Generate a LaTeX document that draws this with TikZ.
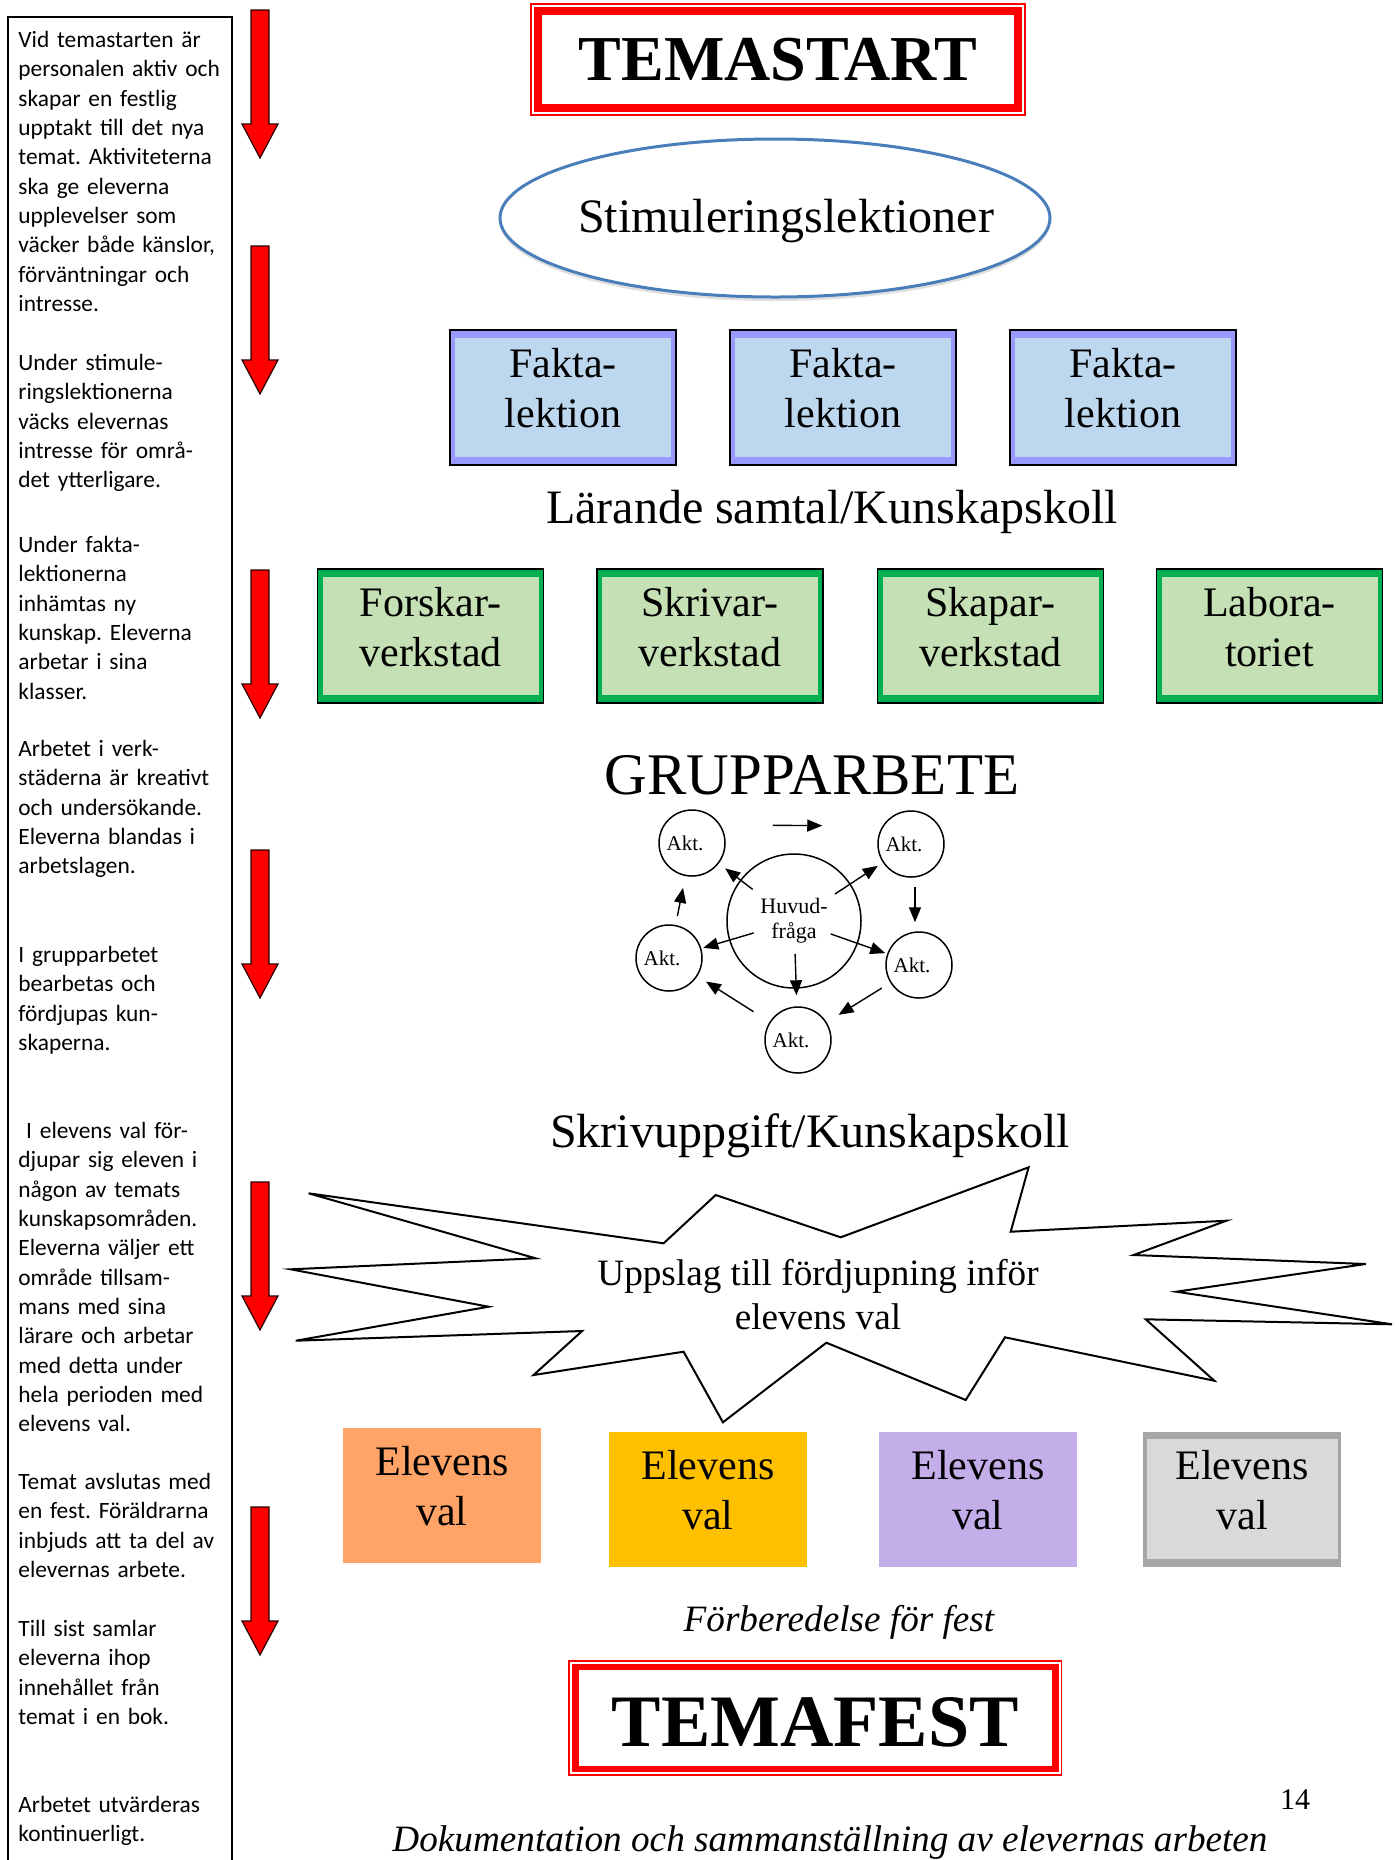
\documentclass[tikz,border=0pt]{standalone}
\usepackage{fontspec}
\setmainfont{Liberation Serif}
\newfontfamily\sidefont{Carlito}
\usetikzlibrary{arrows.meta,shapes.geometric,shadows}
\definecolor{temared}{HTML}{FF0000}
\definecolor{stimblue}{HTML}{4A7EBB}
\definecolor{faktaband}{HTML}{9999FF}
\definecolor{faktafill}{HTML}{BDD7EE}
\definecolor{verkband}{HTML}{00B050}
\definecolor{verkfill}{HTML}{C5E0B4}
\definecolor{valorange}{HTML}{FFA366}
\definecolor{valgold}{HTML}{FFC000}
\definecolor{vallilac}{HTML}{C3AEEA}
\definecolor{valgrey}{HTML}{D9D9D9}
\definecolor{valgreyband}{HTML}{A6A6A6}
\frenchspacing
\tikzset{
    every node/.style={inner sep=0pt},
    sidetext/.style={anchor=north west,text width=106pt,align=left,font=\sidefont\fontsize{11.7}{14.65}\selectfont},
    redarrow/.style={fill=red,draw=black!85!red,line width=0.6pt},
    titlebox/.style={draw=temared,minimum width=240pt},
    titlerim/.style={draw=temared,line width=0.9pt},
    stimel/.style={ellipse,draw=stimblue,line width=1.5pt,fill=white,minimum width=275pt,minimum height=79pt,
        drop shadow={opacity=0.25,shadow xshift=0pt,shadow yshift=-2pt}},
    boxtext/.style={align=center,font=\fontsize{21}{25}\selectfont,yshift=4.5pt},
    bandbox/.style 2 args={draw=black,line width=0.8pt,fill=#1,minimum width=113pt,minimum height=67.5pt,
        path picture={\fill[#2] ([shift={(2.5pt,-4.2pt)}]path picture bounding box.north west) rectangle ([shift={(-2.5pt,4.2pt)}]path picture bounding box.south east);}},
    fakta/.style={bandbox={faktaband}{faktafill}},
    verk/.style={bandbox={verkband}{verkfill},minimum height=67pt},
    valbox/.style={fill=#1,minimum width=99pt,minimum height=67.5pt},
    heading/.style={font=\fontsize{24}{28}\selectfont},
    subline/.style={font=\itshape\fontsize{18.6}{22}\selectfont},
    hub/.style={circle,draw,line width=0.75pt,minimum size=67pt,align=center,font=\fontsize{11}{12.5}\selectfont},
    akt/.style={circle,draw,line width=0.75pt,minimum size=33pt,font=\fontsize{10.5}{12}\selectfont},
    cyc/.style={-{Triangle[length=7.5pt,width=6pt]},line width=0.7pt},
    burst/.style={draw,fill=white,line width=1pt},
}
\begin{document}
\begin{tikzpicture}[x=0.5pt,y=-0.5pt]
\useasboundingbox (0,0) rectangle (1399,1860);

% left column
\draw[line width=1.2pt] (8,17) rectangle (232,1875);
\node[sidetext] (side1) at (18,31) {Vid temastarten är\\ personalen aktiv och\\ skapar en festlig\\ upptakt till det nya\\ temat. Aktiviteterna\\ ska ge eleverna\\ upplevelser som\\ väcker både känslor,\\ förväntningar och\\ intresse.};
\node[sidetext] (side2) at (18,354) {Under stimule-\\ ringslektionerna\\ väcks elevernas\\ intresse för områ-\\ det ytterligare.};
\node[sidetext] (side3) at (18,536) {Under fakta-\\ lektionerna\\ inhämtas ny\\ kunskap. Eleverna\\ arbetar i sina\\ klasser.};
\node[sidetext] (side4) at (18,740) {Arbetet i verk-\\ städerna är kreativt\\ och undersökande.\\ Eleverna blandas i\\ arbetslagen.};
\node[sidetext] (side5) at (18,946) {I grupparbetet\\ bearbetas och\\ fördjupas kun-\\ skaperna.};
\node[sidetext] (side6) at (18,1122) {\ I elevens val för-\\ djupar sig eleven i\\ någon av temats\\ kunskapsområden.\\ Eleverna väljer ett\\ område tillsam-\\ mans med sina\\ lärare och arbetar\\ med detta under\\ hela perioden med\\ elevens val.};
\node[sidetext] (side7) at (18,1473) {Temat avslutas med\\ en fest. Föräldrarna\\ inbjuds att ta del av\\ elevernas arbete.};
\node[sidetext] (side8) at (18,1620) {Till sist samlar\\ eleverna ihop\\ innehållet från\\ temat i en bok.};
\node[sidetext] (side9) at (18,1796) {Arbetet utvärderas\\ kontinuerligt.};

% red arrows
\foreach \ytop in {10,246,570,850,1182,1507}
    \draw[redarrow] (251,\ytop) -- (269,\ytop) -- (269,\ytop+114) -- (278,\ytop+114)
        -- (260,\ytop+148) -- (242,\ytop+114) -- (251,\ytop+114) -- cycle;

% start
\node[titlebox,line width=4pt,minimum height=48.5pt,font=\bfseries\fontsize{32}{36}\selectfont] (temastart) at (778,59.5) {TEMASTART};
\draw[titlerim] ([shift={(-1.5pt,1.5pt)}]temastart.north west) rectangle ([shift={(1.5pt,-1.5pt)}]temastart.south east);

\node[stimel,label={[heading,xshift=5.5pt,yshift=-1.75pt]center:Stimuleringslektioner}] (stim) at (775,218) {};

% faktalektioner
\node[fakta,label={[boxtext]center:Fakta-\\lektion}] (fakta1) at (563,397.5) {};
\node[fakta,label={[boxtext]center:Fakta-\\lektion}] (fakta2) at (843,397.5) {};
\node[fakta,label={[boxtext]center:Fakta-\\lektion}] (fakta3) at (1123,397.5) {};
\node[heading] (larande) at (832,511.5) {Lärande samtal/Kunskapskoll};

% verkstäder
\node[verk,label={[boxtext]center:Forskar-\\verkstad}] (verk1) at (430.5,636) {};
\node[verk,label={[boxtext]center:Skrivar-\\verkstad}] (verk2) at (710,636) {};
\node[verk,label={[boxtext]center:Skapar-\\verkstad}] (verk3) at (990.5,636) {};
\node[verk,label={[boxtext]center:Labora-\\toriet}] (verk4) at (1269.5,636) {};

% grupparbete
\node[font=\fontsize{29.5}{34}\selectfont] (grupp) at (812,775) {GRUPPARBETE};
\node[hub] (hub) at (794,921) {Huvud-\\fråga};
\node[akt] (akt1) at (692,843) {Akt.\kern7pt};
\node[akt] (akt2) at (911,844) {Akt.\kern7pt};
\node[akt] (akt3) at (919,965) {Akt.\kern7pt};
\node[akt] (akt4) at (798,1040) {Akt.\kern7pt};
\node[akt] (akt5) at (669,958) {Akt.\kern7pt};
\draw[cyc,shorten <=26pt,shorten >=4pt] (hub.center) -- (akt1);
\draw[cyc,shorten <=24.5pt,shorten >=3pt] (hub.center) -- (akt2);
\draw[cyc,shorten <=19.5pt,shorten >=1pt] (hub.center) -- (akt3);
\draw[cyc,shorten <=16.5pt,shorten >=5.5pt] (hub.center) -- (akt4);
\draw[cyc,shorten <=21pt,shorten >=1pt] (hub.center) -- (akt5);
\draw[cyc,shorten <=23.5pt,shorten >=27.5pt] ([yshift=9pt]akt1.east) -- ([yshift=9pt]akt2.west);
\draw[cyc,shorten <=4.5pt,shorten >=4.5pt] ([xshift=2pt]akt2.south) -- ([xshift=-2pt]akt3.north);
\draw[cyc,shorten <=5pt,shorten >=7pt] (akt3) -- (akt4);
\draw[cyc,shorten <=9.5pt,shorten >=5pt] (akt4) -- (akt5);
\draw[cyc,shorten <=4.5pt,shorten >=6pt] (akt5) -- (akt1);

\node[heading] (skriv) at (810,1136) {Skrivuppgift/Kunskapskoll};

% fördjupning
\draw[burst] (308.6,1193.3) -- (663.6,1243.3) -- (715.7,1195) -- (840.7,1237.3) -- (1028.6,1167.3)
    -- (1010.7,1231.7) -- (1226.4,1220.7) -- (1133.6,1255) -- (1365.7,1264) -- (1176.4,1291.7)
    -- (1392,1324.3) -- (1145.7,1319.3) -- (1214.3,1380.7) -- (1005,1337.3) -- (965.7,1400)
    -- (826.4,1342.7) -- (722.9,1422.3) -- (683.6,1351.7) -- (533.6,1375) -- (582.1,1331)
    -- (295.7,1340.7) -- (488.6,1306.7) -- (290.7,1269.3) -- (535.7,1258.3) -- cycle;
\node[align=center,font=\fontsize{18.6}{22}\selectfont] (uppslag) at (818,1295) {Uppslag till fördjupning inför\\elevens val};

% elevens val
\node[valbox=valorange,label={[boxtext]center:Elevens\\val}] (val1) at (442,1495.5) {};
\node[valbox=valgold,label={[boxtext]center:Elevens\\val}] (val2) at (708,1499) {};
\node[valbox=vallilac,label={[boxtext]center:Elevens\\val}] (val3) at (978,1499) {};
\node[valbox=valgreyband,label={[boxtext]center:Elevens\\val},
    path picture={\fill[valgrey] ([shift={(2pt,-3.3pt)}]path picture bounding box.north west) rectangle ([shift={(-1.7pt,4pt)}]path picture bounding box.south east);}] (val4) at (1242,1499.5) {};

\node[subline] (forber) at (839,1622.5) {Förberedelse för fest};

% fest
\node[titlebox,line width=3.3pt,minimum height=51pt,text height=28pt,text depth=0pt,font=\bfseries\fontsize{37}{42}\selectfont] (temafest) at (815.3,1718) {TEMAFEST};
\draw[titlerim,line width=0.75pt] ([shift={(-1.4pt,1.4pt)}]temafest.north west) rectangle ([shift={(1.4pt,-1.4pt)}]temafest.south east);

\node[font=\fontsize{15}{18}\selectfont] (page) at (1295,1800) {14};
\node[subline] (doku) at (830,1842.5) {Dokumentation och sammanställning av elevernas arbeten};
\end{tikzpicture}
\end{document}
